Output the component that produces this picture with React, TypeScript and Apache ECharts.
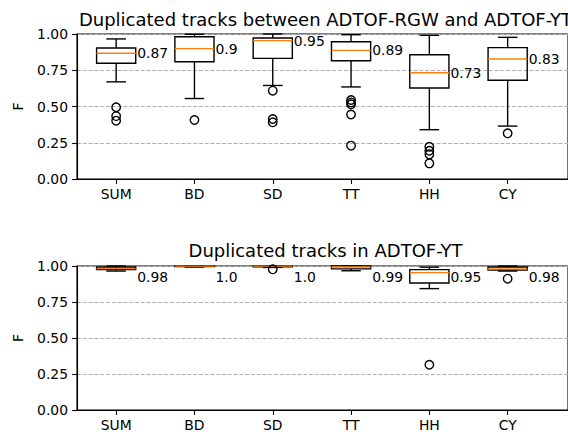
import React, { useEffect, useRef } from 'react';
import * as echarts from 'echarts';

const categories = ['SUM', 'BD', 'SD', 'TT', 'HH', 'CY'];
const yTicks = [0, 0.25, 0.5, 0.75, 1.0];

const topTitle = 'Duplicated tracks between ADTOF-RGW and ADTOF-YT';
const topMin = [0.67, 0.555, 0.645, 0.635, 0.34, 0.365];
const topQ1 = [0.798, 0.809, 0.832, 0.816, 0.628, 0.681];
const topMedian = [0.867, 0.899, 0.954, 0.887, 0.733, 0.828];
const topQ3 = [0.903, 0.981, 0.972, 0.947, 0.857, 0.906];
const topMax = [0.966, 0.998, 1.0, 0.995, 0.991, 0.977];
const topOutliers = [
  [0.495, 0.434, 0.402],
  [0.407],
  [0.609, 0.414, 0.391],
  [0.545, 0.528, 0.515, 0.445, 0.23],
  [0.222, 0.195, 0.17, 0.108],
  [0.315],
];
const topLabels = ['0.87', '0.9', '0.95', '0.89', '0.73', '0.83'];

const botTitle = 'Duplicated tracks in ADTOF-YT';
const botMin = [0.965, 0.993, 0.99, 0.967, 0.843, 0.965];
const botQ1 = [0.975, 0.996, 0.995, 0.98, 0.882, 0.972];
const botMedian = [0.982, 0.999, 0.999, 0.993, 0.954, 0.979];
const botQ3 = [0.993, 1.0, 1.0, 1.0, 0.975, 0.993];
const botMax = [1.0, 1.0, 1.0, 1.0, 0.992, 1.0];
const botOutliers = [[], [], [0.977], [], [0.314], [0.912]];
const botLabels = ['0.98', '1.0', '1.0', '0.99', '0.95', '0.98'];

const FONT = '"DejaVu Sans", "Liberation Sans", sans-serif';
const TICK_FS = 13.9;
const TITLE_FS = 18;
const GRID_LEFT = 77;
const GRID_WIDTH = 497; // full axes width (extends past the page edge)
const VISIBLE_WIDTH = 491; // part of it inside the page
const UNIT_PX = 78.3;
const LW = 1.4;
const BOT_LABEL_VALUE = 0.926;

function boxSeries(
  gi: number,
  mins: number[],
  q1s: number[],
  meds: number[],
  q3s: number[],
  maxs: number[],
  labels: string[],
  fixedLabelY: number | null
) {
  const data = categories.map((_, i) => [
    i + 1,
    mins[i],
    q1s[i],
    meds[i],
    q3s[i],
    maxs[i],
    fixedLabelY == null ? meds[i] : fixedLabelY,
  ]);
  return {
    type: 'custom',
    xAxisIndex: gi,
    yAxisIndex: gi,
    silent: true,
    clip: false,
    data,
    encode: { x: 0, y: [1, 2, 3, 4, 5] },
    renderItem: (params: any, api: any) => {
      const x = api.value(0);
      const mn = api.value(1);
      const q1 = api.value(2);
      const md = api.value(3);
      const q3 = api.value(4);
      const mx = api.value(5);
      const ly = api.value(6);
      const c = (xv: number, yv: number) => api.coord([xv, yv]);
      const bl = c(x - 0.25, q1);
      const tr = c(x + 0.25, q3);
      const wMin = c(x, mn);
      const wMax = c(x, mx);
      const capL = c(x - 0.125, 0)[0];
      const capR = c(x + 0.125, 0)[0];
      const mdL = c(x - 0.25, md);
      const mdR = c(x + 0.25, md);
      const lab = c(x + 0.25, ly);
      const black = { stroke: '#000', lineWidth: LW };
      return {
        type: 'group',
        children: [
          { type: 'line', shape: { x1: wMin[0], y1: bl[1], x2: wMin[0], y2: wMin[1] }, style: black },
          { type: 'line', shape: { x1: wMax[0], y1: tr[1], x2: wMax[0], y2: wMax[1] }, style: black },
          { type: 'line', shape: { x1: capL, y1: wMin[1], x2: capR, y2: wMin[1] }, style: black },
          { type: 'line', shape: { x1: capL, y1: wMax[1], x2: capR, y2: wMax[1] }, style: black },
          {
            type: 'rect',
            shape: { x: bl[0], y: tr[1], width: tr[0] - bl[0], height: bl[1] - tr[1] },
            style: { fill: 'none', stroke: '#000', lineWidth: LW },
          },
          {
            type: 'line',
            shape: { x1: mdL[0], y1: mdL[1], x2: mdR[0], y2: mdR[1] },
            style: { stroke: '#ff7f0e', lineWidth: LW },
          },
          {
            type: 'text',
            x: lab[0] + 1.5,
            y: lab[1],
            style: {
              text: labels[params.dataIndex],
              fill: '#000',
              fontSize: TICK_FS,
              fontFamily: FONT,
              textAlign: 'left',
              textVerticalAlign: 'middle',
            },
          },
        ],
      };
    },
  };
}

function outlierSeries(gi: number, outs: number[][]) {
  const data: number[][] = [];
  outs.forEach((arr, i) => arr.forEach((v) => data.push([i + 1, v])));
  return {
    type: 'scatter',
    xAxisIndex: gi,
    yAxisIndex: gi,
    silent: true,
    data,
    symbol: 'circle',
    symbolSize: 8.5,
    itemStyle: { color: 'rgba(0,0,0,0)', borderColor: '#000', borderWidth: LW, opacity: 1 },
    z: 5,
  };
}

function xAxis(gi: number) {
  return {
    type: 'value',
    gridIndex: gi,
    min: 0.5,
    max: 0.5 + VISIBLE_WIDTH / UNIT_PX,
    axisLine: { show: true, lineStyle: { color: '#000', width: 1.1 } },
    axisTick: {
      show: true,
      length: 4.9,
      customValues: [1, 2, 3, 4, 5, 6],
      lineStyle: { color: '#000', width: 1.1 },
    },
    axisLabel: {
      show: true,
      customValues: [1, 2, 3, 4, 5, 6],
      formatter: (v: number) => categories[Math.round(v) - 1] ?? '',
      color: '#000',
      fontSize: TICK_FS,
      fontFamily: FONT,
      margin: 8,
    },
    splitLine: { show: false },
  };
}

function yAxis(gi: number) {
  return {
    type: 'value',
    gridIndex: gi,
    min: yTicks[0],
    max: yTicks[yTicks.length - 1],
    interval: 0.25,
    name: 'F',
    nameLocation: 'middle',
    nameGap: 52,
    nameTextStyle: { color: '#000', fontSize: TICK_FS, fontFamily: FONT },
    axisLine: { show: true, lineStyle: { color: '#000', width: 1.1 } },
    axisTick: { show: true, length: 4.9, lineStyle: { color: '#000', width: 1.1 } },
    axisLabel: {
      color: '#000',
      fontSize: TICK_FS,
      fontFamily: FONT,
      margin: 9,
      formatter: (v: number) => v.toFixed(2),
    },
    splitLine: { show: true, lineStyle: { color: '#b0b0b0', width: 1.1, type: [4, 1.8] } },
  };
}

export default function App() {
  const ref = useRef<HTMLDivElement>(null);
  useEffect(() => {
    if (!ref.current) return;
    const chart = echarts.init(ref.current, null, { renderer: 'svg' });
    const cx = GRID_LEFT + GRID_WIDTH / 2;
    chart.setOption({
      animation: false,
      backgroundColor: '#fff',
      textStyle: { fontFamily: FONT },
      grid: [
        { left: GRID_LEFT, top: 34, width: GRID_WIDTH, height: 145, show: true, borderColor: '#000', borderWidth: 1.1, backgroundColor: 'transparent' },
        { left: GRID_LEFT, top: 266, width: GRID_WIDTH, height: 144.3, show: true, borderColor: '#000', borderWidth: 1.1, backgroundColor: 'transparent' },
      ],
      xAxis: [xAxis(0), xAxis(1)],
      yAxis: [yAxis(0), yAxis(1)],
      graphic: [
        {
          type: 'text',
          x: cx,
          y: 19.5,
          style: { text: topTitle, fill: '#000', fontSize: TITLE_FS, fontFamily: FONT, textAlign: 'center', textVerticalAlign: 'middle' },
        },
        {
          type: 'text',
          x: cx,
          y: 250.5,
          style: { text: botTitle, fill: '#000', fontSize: TITLE_FS, fontFamily: FONT, textAlign: 'center', textVerticalAlign: 'middle' },
        },
      ],
      series: [
        boxSeries(0, topMin, topQ1, topMedian, topQ3, topMax, topLabels, null),
        outlierSeries(0, topOutliers),
        boxSeries(1, botMin, botQ1, botMedian, botQ3, botMax, botLabels, BOT_LABEL_VALUE),
        outlierSeries(1, botOutliers),
      ],
    });
    return () => chart.dispose();
  }, []);
  return (
    <div
      ref={ref}
      style={{ position: 'absolute', left: 0, top: 0, width: 568, height: 432 }}
    />
  );
}
